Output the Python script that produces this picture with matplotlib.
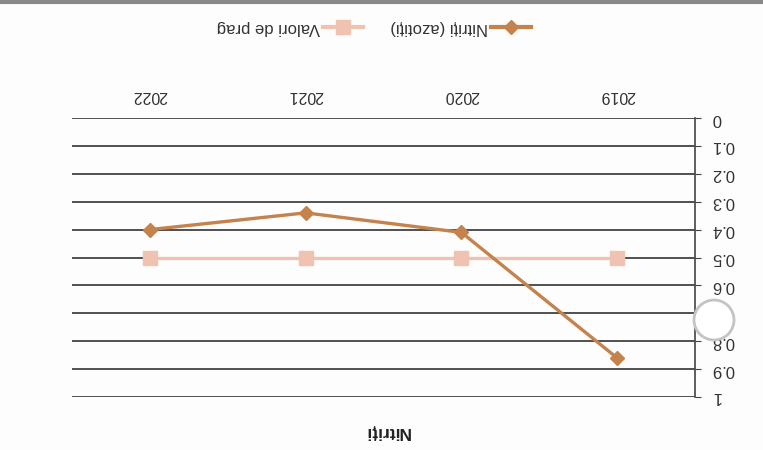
import matplotlib
matplotlib.use("Agg")
import matplotlib.pyplot as plt
from matplotlib.patches import Circle
from matplotlib.lines import Line2D
from matplotlib.transforms import IdentityTransform

plt.rcParams["font.family"] = ["Liberation Sans", "DejaVu Sans"]

# date
ani = ["2019", "2020", "2021", "2022"]
nitriti = [0.86, 0.41, 0.34, 0.40]
prag = [0.5, 0.5, 0.5, 0.5]
yticks = [0, 0.1, 0.2, 0.3, 0.4, 0.5, 0.6, 0.7, 0.8, 0.9, 1]
ylabels = ["0", "0.1", "0.2", "0.3", "0.4", "0.5", "0.6", "0.7", "0.8", "0.9", "1"]

c_nitriti = "#C4834C"
c_prag = "#F0C2B2"

fig = plt.figure(figsize=(7.63, 4.5), dpi=100)
fig.patch.set_facecolor("#FDFDFD")
ax = fig.add_axes([72 / 763, 1 - 397 / 450, (695 - 72) / 763, (397 - 118) / 450])
ax.set_facecolor("none")

x = list(range(len(ani)))
ax.plot(x, prag, color=c_prag, lw=2.4, marker="s", ms=9.5, label="Valori de prag", zorder=3)
ax.plot(x, nitriti, color=c_nitriti, lw=2.4, marker="D", ms=7, label="Nitriți (azotiți)", zorder=4)

# imaginea este scanata cu susul in jos
ax.set_xlim(3.5, -0.5)
ax.set_ylim(1, 0)
ax.set_yticks(yticks)
ax.set_yticklabels(ylabels, rotation=180, fontsize=12, color="#333333", va="center")
ax.yaxis.tick_right()
ax.set_xticks(x)
ax.set_xticklabels(ani, rotation=180, fontsize=11.5, color="#333333")
ax.xaxis.tick_top()
ax.tick_params(axis="x", length=0, pad=11)
ax.tick_params(axis="y", length=4, color="#444444", pad=8)
ax.grid(axis="y", color="#333333", lw=1.2)
for s in ["left", "top", "bottom"]:
    ax.spines[s].set_visible(False)
ax.spines["right"].set_color("#444444")
ax.spines["right"].set_linewidth(1.2)

fig.text(387 / 763, 1 - 432 / 450, "Nitriți", rotation=180, ha="center", va="center",
         fontsize=12.5, fontweight="bold", color="#222222")

h, l = ax.get_legend_handles_labels()
leg = fig.legend(h, l, loc="center", bbox_to_anchor=(374 / 763, 1 - 28 / 450), ncol=2,
                 frameon=False, markerfirst=False, fontsize=12, handlelength=2.4,
                 columnspacing=1.6, handletextpad=0.2)
for t in leg.get_texts():
    t.set_rotation(180)
    t.set_color("#333333")
for ln in leg.get_lines():
    ln.set_linewidth(3)

# urme de scanare
fig.add_artist(Line2D([0, 1], [1 - 2 / 450, 1 - 2 / 450], transform=fig.transFigure,
                      color="#888888", lw=3))
fig.add_artist(Circle((714, 450 - 320), 20, transform=IdentityTransform(),
                      facecolor="white", edgecolor="#c4c4c4", lw=2, zorder=10))

fig.savefig("out.png", dpi=100, facecolor=fig.get_facecolor())
